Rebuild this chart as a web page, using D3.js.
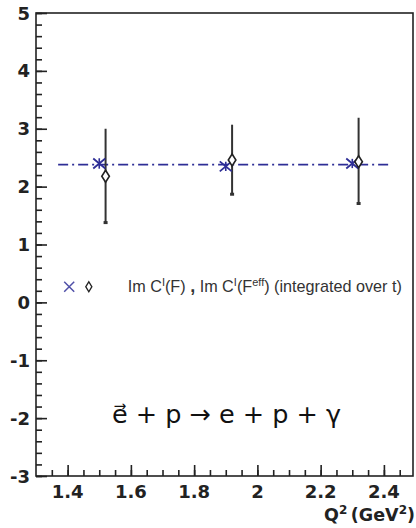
<!DOCTYPE html>
<html>
<head>
<meta charset="utf-8">
<script src="https://cdn.jsdelivr.net/npm/d3@7"></script>
<style>
  body { margin: 0; background: #fff; }
  svg { display: block; }
  .tick-label { font-family: "DejaVu Sans", Arial, sans-serif; font-weight: bold; fill: #222; }
</style>
</head>
<body>
<svg id="plot" width="416" height="528"></svg>
<script>
const Q2_F = [1.5, 1.9, 2.3];          // Im C^I(F) (crosses)
const IMC_F = [2.40, 2.35, 2.40];
const ERR_F = [0.09, 0.08, 0.08];

const Q2_FEFF = [1.52, 1.92, 2.32];    // Im C^I(F^eff) (diamonds)
const IMC_FEFF = [2.18, 2.46, 2.43];
const LOW_FEFF = [1.37, 1.86, 1.70];
const HIGH_FEFF = [3.00, 3.07, 3.19];

const FIT_X = [1.37, 2.42];            // dash-dot constant fit
const FIT_Y = 2.38;

const X_TICKS = [1.4, 1.6, 1.8, 2, 2.2, 2.4];
const X_TICK_LABELS = ['1.4', '1.6', '1.8', '2', '2.2', '2.4'];
const Y_TICKS = [-3, -2, -1, 0, 1, 2, 3, 4, 5];

const MARGIN = { top: 13, right: 3, bottom: 52, left: 36 };
const WIDTH = 416, HEIGHT = 528;
const BLUE = '#2e2e96';

const svg = d3.select('#plot');
const x = d3.scaleLinear().domain([1.3, 2.492]).range([MARGIN.left, WIDTH - MARGIN.right]);
const y = d3.scaleLinear().domain([-3, 5]).range([HEIGHT - MARGIN.bottom, MARGIN.top]);

// frame
svg.append('rect')
    .attr('x', x(1.3)).attr('y', y(5))
    .attr('width', x(2.492) - x(1.3)).attr('height', y(-3) - y(5))
    .attr('fill', 'none').attr('stroke', '#222').attr('stroke-width', 1.6);

// y axis: inward ticks
const yAxis = d3.axisRight(y).tickValues(Y_TICKS).tickSize(11).tickFormat('');
const yMinor = d3.axisRight(y).tickValues(d3.range(-3, 5.01, 0.2)).tickSize(6).tickFormat('');
svg.append('g').attr('transform', `translate(${MARGIN.left},0)`).call(yMinor);
svg.append('g').attr('transform', `translate(${MARGIN.left},0)`).call(yAxis);

// x axis: inward ticks
const xAxis = d3.axisTop(x).tickValues(X_TICKS).tickSize(11).tickFormat('');
const xMinor = d3.axisTop(x).tickValues(d3.range(1.35, 2.46, 0.05)).tickSize(6).tickFormat('');
svg.append('g').attr('transform', `translate(0,${HEIGHT - MARGIN.bottom})`).call(xMinor);
svg.append('g').attr('transform', `translate(0,${HEIGHT - MARGIN.bottom})`).call(xAxis);

svg.selectAll('.domain').remove();
svg.selectAll('.tick line').attr('stroke', '#222').attr('stroke-width', 1.6);

// tick labels
svg.selectAll('.ylab').data(Y_TICKS).enter().append('text')
    .attr('class', 'tick-label')
    .attr('x', MARGIN.left - 6).attr('y', d => y(d) + 6.5)
    .attr('text-anchor', 'end').style('font-size', '18px')
    .text(d => d);

svg.selectAll('.xlab').data(X_TICKS).enter().append('text')
    .attr('class', 'tick-label')
    .attr('x', d => x(d)).attr('y', HEIGHT - MARGIN.bottom + 22)
    .attr('text-anchor', 'middle').style('font-size', '18px')
    .text((d, i) => X_TICK_LABELS[i]);

// axis title
const title = svg.append('text').attr('class', 'tick-label')
    .attr('x', WIDTH - 1).attr('y', HEIGHT - 7)
    .attr('text-anchor', 'end').style('font-size', '17.5px');
title.append('tspan').text('Q');
title.append('tspan').attr('dy', -7).style('font-size', '12px').text('2');
title.append('tspan').attr('dy', 7).text('\u2009(GeV');
title.append('tspan').attr('dy', -7).style('font-size', '12px').text('2');
title.append('tspan').attr('dy', 7).text(')');

// fit line
svg.append('line')
    .attr('x1', x(FIT_X[0])).attr('x2', x(FIT_X[1]))
    .attr('y1', y(FIT_Y)).attr('y2', y(FIT_Y))
    .attr('stroke', BLUE).attr('stroke-width', 1.8)
    .attr('stroke-dasharray', '10,4,2,4');

// diamond error bars
const feff = Q2_FEFF.map((q, i) => ({ q, v: IMC_FEFF[i], lo: LOW_FEFF[i], hi: HIGH_FEFF[i] }));
svg.selectAll('.ebar').data(feff).enter().append('line')
    .attr('x1', d => x(d.q)).attr('x2', d => x(d.q))
    .attr('y1', d => y(d.lo)).attr('y2', d => y(d.hi))
    .attr('stroke', '#333').attr('stroke-width', 2);
svg.selectAll('.ecap').data(feff).enter().append('rect')
    .attr('x', d => x(d.q) - 2).attr('y', d => y(d.lo) - 2)
    .attr('width', 4).attr('height', 3).attr('fill', '#333');

// crosses with small error bars
const fdat = Q2_F.map((q, i) => ({ q, v: IMC_F[i], e: ERR_F[i] }));
const cross = svg.selectAll('.cross').data(fdat).enter().append('g')
    .attr('transform', d => `translate(${x(d.q)},${y(d.v)})`);
cross.append('path').attr('d', 'M-6,-5L6,5M-6,5L6,-5')
    .attr('stroke', BLUE).attr('stroke-width', 1.8);
cross.append('line').attr('x1', 0).attr('x2', 0)
    .attr('y1', d => y(d.v + d.e) - y(d.v)).attr('y2', d => y(d.v - d.e) - y(d.v))
    .attr('stroke', BLUE).attr('stroke-width', 1.6);

// diamonds
svg.selectAll('.diamond').data(feff).enter().append('path')
    .attr('transform', d => `translate(${x(d.q)},${y(d.v)})`)
    .attr('d', 'M0,-6L3.8,0L0,6L-3.8,0Z')
    .attr('fill', '#fff').attr('stroke', '#222').attr('stroke-width', 1.6);

// legend
const legY = y(0.27);
svg.append('path').attr('transform', `translate(${x(1.405)},${legY})`)
    .attr('d', 'M-5,-5L5,5M-5,5L5,-5').attr('stroke', '#5050a8').attr('stroke-width', 1.5);
svg.append('path').attr('transform', `translate(${x(1.467)},${legY})`)
    .attr('d', 'M0,-5L3,0L0,5L-3,0Z').attr('fill', '#fff').attr('stroke', '#222').attr('stroke-width', 1.4);

const leg = svg.append('text').attr('x', x(1.59)).attr('y', legY + 5)
    .style('font-family', '"Liberation Sans", Arial, sans-serif').style('font-size', '16.2px').attr('fill', '#333');
leg.append('tspan').text('Im C');
leg.append('tspan').attr('dy', -6).style('font-size', '11px').text('I');
leg.append('tspan').attr('dy', 6).text('(F) ');
leg.append('tspan').style('font-weight', 'bold').style('font-size', '18px').text(',');
leg.append('tspan').text(' Im C');
leg.append('tspan').attr('dy', -6).style('font-size', '11px').text('I');
leg.append('tspan').attr('dy', 6).text('(F');
leg.append('tspan').attr('dy', -6).style('font-size', '11px').text('eff');
leg.append('tspan').attr('dy', 6).text(') (integrated over t)');

// reaction
svg.append('text').attr('x', x(1.54)).attr('y', y(-2.08))
    .style('font-family', '"DejaVu Sans", sans-serif').style('font-size', '25.5px').attr('fill', '#111')
    .text('e\u20D7 + p \u2192 e + p + \u03B3');
</script>
</body>
</html>
